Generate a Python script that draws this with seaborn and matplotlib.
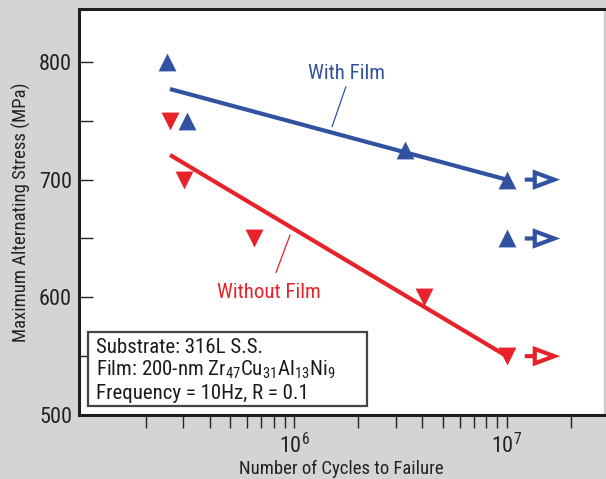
import numpy as np
import pandas as pd
import matplotlib
matplotlib.use("Agg")
import matplotlib.pyplot as plt
from matplotlib import font_manager as fm
from matplotlib.patches import FancyArrowPatch, Rectangle
from matplotlib.ticker import FixedLocator, NullFormatter, FixedFormatter
import seaborn as sns

# ---------------- data ----------------
with_cycles = [2.52e5, 3.13e5, 3.32e6, 1.0e7, 1.0e7]
with_stress = [800, 750, 725, 700, 650]
without_cycles = [2.6e5, 3.04e5, 6.43e5, 4.08e6, 1.0e7]
without_stress = [750, 700, 650, 600, 550]

with_fit_cycles = [2.6e5, 1.0e7]
with_fit_stress = [777, 700]
without_fit_cycles = [2.6e5, 1.0e7]
without_fit_stress = [721, 550]

runout_cycles = [1.0e7, 1.0e7, 1.0e7]
runout_stress = [700, 650, 550]
runout_series = ["with", "with", "without"]

y_major = [500, 600, 700, 800]
y_minor = [550, 650, 750]
x_major = [1e6, 1e7]
x_major_labels = ["$10^{6}$", "$10^{7}$"]
x_minor = [2e5, 3e5, 4e5, 5e5, 6e5, 7e5, 8e5, 9e5,
           2e6, 3e6, 4e6, 5e6, 6e6, 7e6, 8e6, 9e6, 2e7]

box_lines = ["Substrate: 316L S.S.",
             "Film: 200-nm Zr$_{47}$Cu$_{31}$Al$_{13}$Ni$_{9}$",
             "Frequency = 10Hz, R = 0.1"]

# ---------------- style ----------------
BLUE = "#3151a1"
RED = "#e8222a"
BG = "#d3d4d6"

sns.set_theme(style="white")
avail = {f.name for f in fm.fontManager.ttflist}
candidates = ["Liberation Sans Narrow", "Nimbus Sans Narrow", "Arial Narrow",
              "Roboto Condensed", "Archivo Narrow", "Liberation Sans"]
MAIN = next(n for n in candidates if n in avail)
plt.rcParams["font.family"] = [MAIN, "DejaVu Sans"]
plt.rcParams["mathtext.fontset"] = "custom"
plt.rcParams["mathtext.rm"] = MAIN
plt.rcParams["mathtext.it"] = MAIN
plt.rcParams["mathtext.bf"] = MAIN
plt.rcParams["mathtext.default"] = "regular"

fig = plt.figure(figsize=(6.06, 4.79), dpi=100, facecolor=BG)
ax = fig.add_axes([0.1304, 0.1336, 0.8663, 0.8476])
ax.set_facecolor("white")
ax.set_xscale("log")
ax.set_xlim(9.7e4, 2.87e7)
ax.set_ylim(500, 845)

# fit lines
fit_df = pd.DataFrame({
    "cycles": with_fit_cycles + without_fit_cycles,
    "stress": with_fit_stress + without_fit_stress,
    "series": ["with"] * 2 + ["without"] * 2,
})
sns.lineplot(data=fit_df, x="cycles", y="stress", hue="series",
             palette={"with": BLUE, "without": RED}, linewidth=3.0,
             legend=False, ax=ax, solid_capstyle="butt")

# markers
sns.scatterplot(x=with_cycles, y=with_stress, marker="^", s=165,
                color=BLUE, linewidth=0, ax=ax, zorder=5)
sns.scatterplot(x=without_cycles, y=without_stress, marker="v", s=165,
                color=RED, linewidth=0, ax=ax, zorder=5)

# run-out arrows
for xc, yc, ser in zip(runout_cycles, runout_stress, runout_series):
    col = BLUE if ser == "with" else RED
    arr = FancyArrowPatch((xc * 1.18, yc), (xc * 1.84, yc),
                          arrowstyle="-|>,head_length=14,head_width=5.2",
                          mutation_scale=1, lw=3.0, ec=col, fc="white",
                          joinstyle="miter", capstyle="butt", zorder=6)
    ax.add_patch(arr)

# annotations
ax.text(1.77e6, 790, "With Film", color=BLUE, fontsize=15,
        ha="center", va="center")
ax.plot([1.75e6, 1.506e6], [779, 745], color=BLUE, lw=0.9)
ax.text(7.6e5, 604, "Without Film", color=RED, fontsize=15,
        ha="center", va="center")
ax.plot([9.55e5, 8.2e5], [653, 621], color=RED, lw=0.9)

# info box
ax.add_patch(Rectangle((0.0171, 0.0222), 0.5315, 0.1822, transform=ax.transAxes,
                       fc="white", ec="#444444", lw=1.6, zorder=7))
for txt, yy in zip(box_lines, [0.1527, 0.0961, 0.0394]):
    ax.text(0.0324, yy, txt, transform=ax.transAxes, fontsize=15,
            ha="left", va="baseline", color="#1a1a1a", zorder=8)

# ticks
ax.xaxis.set_major_locator(FixedLocator(x_major))
ax.xaxis.set_major_formatter(FixedFormatter(x_major_labels))
ax.xaxis.set_minor_locator(FixedLocator(x_minor))
ax.xaxis.set_minor_formatter(NullFormatter())
ax.yaxis.set_major_locator(FixedLocator(y_major))
ax.yaxis.set_minor_locator(FixedLocator(y_minor))
ax.yaxis.set_minor_formatter(NullFormatter())

ax.tick_params(axis="x", which="both", direction="out", length=9.5, width=1.0,
               color="#222222", bottom=True, top=False, labelsize=16, pad=3.5,
               labelcolor="#222222")
ax.tick_params(axis="y", which="both", direction="in", length=10, width=1.0,
               color="#222222", left=True, right=False, labelsize=16, pad=5,
               labelcolor="#222222")

for side in ["left", "bottom", "top"]:
    ax.spines[side].set_color("#1e1e1e")
    ax.spines[side].set_linewidth(2.2)
ax.spines["right"].set_color("#c8c8c8")
ax.spines["right"].set_linewidth(1.0)

ax.set_xlabel("Number of Cycles to Failure", fontsize=13.5, color="#222222")
ax.xaxis.set_label_coords(0.5, -0.111)
ax.set_ylabel("Maximum Alternating Stress (MPa)", fontsize=13.5, color="#222222")
ax.yaxis.set_label_coords(-0.092, 0.5)

fig.savefig("out.png", dpi=100, facecolor=BG)
